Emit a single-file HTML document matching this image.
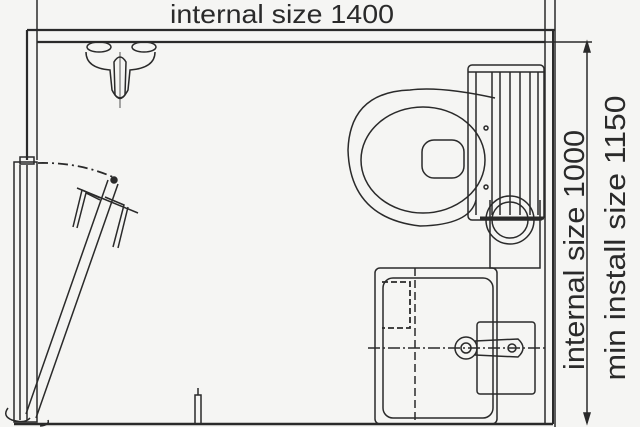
<!DOCTYPE html>
<html><head><style>
html,body{margin:0;padding:0;background:#f5f5f3;}
svg{display:block}
text{font-family:"Liberation Sans",sans-serif;fill:#2a2a2a}
</style></head><body>
<svg width="640" height="427" viewBox="0 0 640 427" xmlns="http://www.w3.org/2000/svg">
<rect width="640" height="427" fill="#f5f5f3"/>
<g stroke="#2a2a2a" fill="none" stroke-width="1.5">
<line x1="27" y1="30" x2="555" y2="30" stroke-width="2.2"/>
<line x1="37" y1="42" x2="545" y2="42" stroke-width="2.2"/>
<line x1="37" y1="0" x2="37" y2="42"/>
<line x1="545" y1="0" x2="545" y2="42"/>
<line x1="555" y1="0" x2="555" y2="427"/>
<line x1="545" y1="42" x2="545" y2="424"/>
<line x1="553" y1="30" x2="553" y2="424" stroke-width="2"/>
<line x1="27" y1="30" x2="27" y2="160" stroke-width="2.2"/>
<line x1="37" y1="42" x2="37" y2="160"/>
<rect x="14" y="162" width="23" height="260"/>
<line x1="20" y1="165" x2="20" y2="420"/>
<line x1="27" y1="165" x2="27" y2="420"/>
<rect x="20" y="157" width="14" height="7"/>
<line x1="14" y1="424" x2="553" y2="424" stroke-width="2.4"/>
<line x1="587" y1="42" x2="587" y2="423"/>
<polygon points="587,42 584,52 590,52" fill="#2a2a2a"/>
<polygon points="587,423 584,413 590,413" fill="#2a2a2a"/>
<line x1="545" y1="42" x2="592" y2="42"/>
<line x1="26" y1="414" x2="108" y2="180"/>
<line x1="36" y1="418" x2="118" y2="184"/>
<path d="M38 163 Q80 162 115 178" stroke-dasharray="10,4,2,4" stroke-width="1.8"/>
<line x1="77" y1="188" x2="138" y2="213"/>
<path d="M73 227 L82 190 L100 198"/>
<path d="M77 228 L86 193 L100 200"/>
<path d="M113 247 L124 205 L105 197"/>
<path d="M118 248 L128 207"/>
<circle cx="114" cy="180" r="3" fill="#2a2a2a"/>
<path d="M8 408 Q2 416 12 420 Q25 424 30 418 M48 420 Q50 425 40 426"/>
<rect x="195" y="395" width="6" height="29"/>
<line x1="198" y1="388" x2="198" y2="395"/>
<path d="M86 52 Q86 68 110 70 L112 90 Q120 106 128 90 L130 70 Q155 68 155 52"/>
<ellipse cx="99" cy="47" rx="12" ry="5"/>
<ellipse cx="144" cy="47" rx="12" ry="5"/>
<path d="M114 62 Q120 52 126 62 L125 95 Q120 102 115 95 Z"/>
<line x1="120" y1="52" x2="120" y2="108" stroke-width="0.8"/>
<rect x="468" y="65" width="76" height="155" rx="4"/>
<line x1="468" y1="72" x2="544" y2="72"/>
<line x1="476" y1="72" x2="476" y2="215"/>
<line x1="492" y1="72" x2="492" y2="215"/>
<line x1="500" y1="72" x2="500" y2="215"/>
<line x1="510" y1="72" x2="510" y2="215"/>
<line x1="520" y1="72" x2="520" y2="215"/>
<line x1="530" y1="72" x2="530" y2="215"/>
<line x1="538" y1="72" x2="538" y2="215"/>
<path d="M495 98 Q440 86 410 90 Q350 92 348 150 Q350 218 420 226 Q470 225 476 200"/>
<ellipse cx="423" cy="160" rx="62" ry="53"/>
<rect x="422" y="140" width="42" height="38" rx="12"/>
<circle cx="486" cy="128" r="2"/>
<circle cx="486" cy="187" r="2"/>
<path d="M490 200 L490 268 L540 268 L540 200"/>
<circle cx="510" cy="220" r="24"/>
<circle cx="510" cy="220" r="18"/>
<line x1="480" y1="218" x2="544" y2="218" stroke-width="3"/>
<rect x="375" y="268" width="122" height="156" rx="5"/>
<rect x="383" y="278" width="110" height="140" rx="10"/>
<path d="M382 282 L410 282 L410 328 L382 328" stroke-dasharray="6,3" stroke-width="1.8"/>
<line x1="415" y1="268" x2="415" y2="420" stroke-dasharray="8,4"/>
<line x1="368" y1="348" x2="545" y2="348" stroke-dasharray="12,3,2,3"/>
<rect x="477" y="322" width="58" height="72" rx="3"/>
<circle cx="466" cy="348" r="11"/>
<circle cx="466" cy="348" r="5"/>
<path d="M475 341 L518 339 Q528 348 518 357 L475 355"/>
<circle cx="512" cy="348" r="4"/>
</g>
<text x="282" y="23" font-size="26" text-anchor="middle" textLength="224" lengthAdjust="spacingAndGlyphs">internal size 1400</text>
<text transform="translate(584,250) rotate(-90)" font-size="29" text-anchor="middle" textLength="240" lengthAdjust="spacingAndGlyphs">internal size 1000</text>
<text transform="translate(625,238) rotate(-90)" font-size="29" text-anchor="middle" textLength="285" lengthAdjust="spacingAndGlyphs">min install size 1150</text>
</svg>
</body></html>
